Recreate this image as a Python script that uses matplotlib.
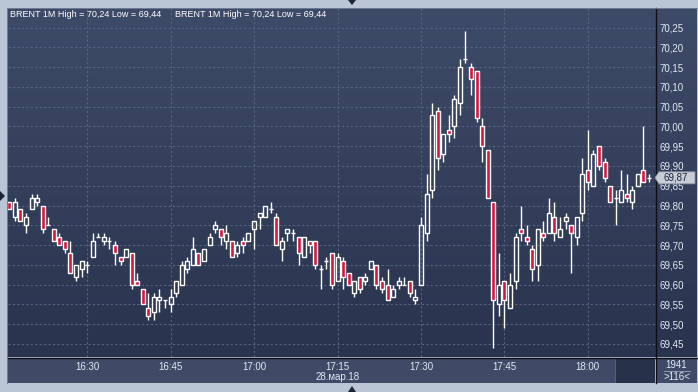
import matplotlib
matplotlib.use("Agg")
import matplotlib.pyplot as plt
import numpy as np
from matplotlib.patches import Rectangle, Polygon
from matplotlib.lines import Line2D
from matplotlib.colors import LinearSegmentedColormap

# ---------------- data ----------------
symbol = "BRENT"
timeframe = "1M"
start_time = "16:16"
date_label = "28.мар.18"
tick_times = ["16:30", "16:45", "17:00", "17:15", "17:30", "17:45", "18:00"]
date_tick = "17:15"
price_ticks = [69.45, 69.50, 69.55, 69.60, 69.65, 69.70, 69.75, 69.80, 69.85,
               69.90, 69.95, 70.00, 70.05, 70.10, 70.15, 70.20, 70.25]
corner_number = "1941"
bar_count_label = ">116<"

opens = [69.81, 69.77, 69.79, 69.75, 69.79, 69.81, 69.80, 69.75, 69.74, 69.72,
         69.71, 69.68, 69.62, 69.64, 69.65, 69.67, 69.72, 69.71, 69.71, 69.70,
         69.67, 69.67, 69.68, 69.61, 69.59, 69.54, 69.53, 69.56, 69.56, 69.55,
         69.58, 69.60, 69.64, 69.65, 69.68, 69.66, 69.70, 69.74, 69.74, 69.71,
         69.71, 69.68, 69.71, 69.71, 69.74, 69.77, 69.77, 69.79, 69.77, 69.69,
         69.73, 69.73, 69.72, 69.67, 69.71, 69.71, 69.64, 69.66, 69.68, 69.61,
         69.66, 69.63, 69.58, 69.62, 69.61, 69.64, 69.65, 69.61, 69.60, 69.57,
         69.60, 69.60, 69.61, 69.56, 69.60, 69.73, 69.84, 70.04, 69.93, 69.99,
         70.00, 70.06, 70.17, 70.15, 70.14, 70.00, 69.94, 69.81, 69.55, 69.61,
         69.54, 69.61, 69.74, 69.72, 69.69, 69.65, 69.73, 69.73, 69.77, 69.72,
         69.76, 69.75, 69.72, 69.78, 69.89, 69.85, 69.95, 69.91, 69.85, 69.82,
         69.81, 69.83, 69.81, 69.85, 69.89, 69.87]
highs = [69.81, 69.82, 69.79, 69.78, 69.83, 69.83, 69.80, 69.77, 69.74, 69.73,
         69.71, 69.71, 69.65, 69.66, 69.66, 69.73, 69.73, 69.73, 69.72, 69.71,
         69.67, 69.69, 69.68, 69.63, 69.59, 69.58, 69.58, 69.59, 69.56, 69.59,
         69.61, 69.66, 69.67, 69.72, 69.68, 69.69, 69.73, 69.76, 69.74, 69.75,
         69.71, 69.71, 69.72, 69.73, 69.76, 69.78, 69.80, 69.81, 69.78, 69.72,
         69.74, 69.74, 69.72, 69.72, 69.71, 69.71, 69.65, 69.67, 69.68, 69.68,
         69.67, 69.63, 69.61, 69.62, 69.63, 69.66, 69.65, 69.62, 69.64, 69.60,
         69.62, 69.62, 69.61, 69.59, 69.77, 69.88, 70.06, 70.05, 69.98, 70.03,
         70.08, 70.17, 70.24, 70.16, 70.14, 70.02, 69.94, 69.81, 69.68, 69.61,
         69.63, 69.73, 69.80, 69.75, 69.70, 69.74, 69.76, 69.82, 69.81, 69.77,
         69.78, 69.75, 69.77, 69.92, 69.99, 69.94, 69.95, 69.92, 69.85, 69.84,
         69.89, 69.88, 69.85, 69.88, 70.00, 69.88]
lows = [69.79, 69.76, 69.76, 69.73, 69.79, 69.80, 69.73, 69.75, 69.71, 69.70,
        69.68, 69.63, 69.61, 69.62, 69.63, 69.67, 69.72, 69.70, 69.69, 69.65,
        69.65, 69.67, 69.59, 69.60, 69.55, 69.51, 69.51, 69.53, 69.54, 69.53,
        69.57, 69.60, 69.63, 69.65, 69.65, 69.66, 69.70, 69.73, 69.70, 69.69,
        69.67, 69.67, 69.68, 69.71, 69.69, 69.74, 69.77, 69.78, 69.70, 69.66,
        69.71, 69.71, 69.65, 69.67, 69.68, 69.64, 69.59, 69.64, 69.59, 69.61,
        69.59, 69.60, 69.57, 69.58, 69.60, 69.64, 69.59, 69.58, 69.56, 69.57,
        69.59, 69.60, 69.57, 69.55, 69.60, 69.71, 69.82, 69.89, 69.91, 69.96,
        69.97, 70.03, 70.16, 70.08, 70.01, 69.91, 69.82, 69.44, 69.52, 69.49,
        69.54, 69.59, 69.71, 69.70, 69.61, 69.61, 69.71, 69.73, 69.71, 69.72,
        69.74, 69.63, 69.70, 69.76, 69.84, 69.85, 69.89, 69.86, 69.81, 69.75,
        69.81, 69.81, 69.79, 69.85, 69.86, 69.86]
closes = [69.79, 69.81, 69.76, 69.77, 69.82, 69.82, 69.74, 69.75, 69.71, 69.70,
          69.69, 69.63, 69.65, 69.66, 69.65, 69.71, 69.72, 69.72, 69.71, 69.68,
          69.66, 69.69, 69.60, 69.60, 69.55, 69.52, 69.57, 69.57, 69.56, 69.57,
          69.61, 69.65, 69.66, 69.69, 69.65, 69.69, 69.72, 69.75, 69.72, 69.73,
          69.67, 69.70, 69.70, 69.73, 69.76, 69.78, 69.80, 69.79, 69.70, 69.71,
          69.74, 69.73, 69.68, 69.72, 69.70, 69.65, 69.64, 69.66, 69.60, 69.67,
          69.62, 69.60, 69.61, 69.59, 69.62, 69.66, 69.60, 69.59, 69.56, 69.59,
          69.61, 69.60, 69.58, 69.57, 69.75, 69.83, 70.03, 69.92, 69.98, 69.98,
          70.07, 70.15, 70.17, 70.12, 70.02, 69.95, 69.82, 69.56, 69.60, 69.56,
          69.60, 69.72, 69.73, 69.71, 69.64, 69.74, 69.72, 69.78, 69.73, 69.74,
          69.77, 69.73, 69.77, 69.88, 69.86, 69.93, 69.90, 69.87, 69.81, 69.82,
          69.84, 69.82, 69.84, 69.88, 69.86, 69.87]

# ---------------- helpers ----------------
def minutes(t):
    h, m = t.split(":")
    return int(h) * 60 + int(m)

t0 = minutes(start_time)
n = len(closes)
x = np.arange(n)  # one candle per minute from start_time
tick_pos = [minutes(t) - t0 for t in tick_times]

def fmt(v):
    return f"{v:.2f}".replace(".", ",")

W, H = 698, 392
def rect(x0, y0, x1, y1):
    return [x0 / W, 1 - y1 / H, (x1 - x0) / W, (y1 - y0) / H]

FRAME = "#bac6d6"
TOP = "#3e4b68"
BOT = "#29334e"
RED = "#dc143c"
TXT = "#e2eaf5"

fig = plt.figure(figsize=(W / 100, H / 100), dpi=100, facecolor=FRAME)

# gradient background for plot + right price scale
bg = fig.add_axes(rect(8, 8, 697, 357))
cmap = LinearSegmentedColormap.from_list("bg", [TOP, BOT])
bg.imshow(np.linspace(0, 1, 256).reshape(-1, 1), aspect="auto", cmap=cmap,
          extent=[0, 1, 0, 1], origin="upper")
bg.set_axis_off()

ax = fig.add_axes(rect(8, 8, 655, 357))
ax.set_facecolor("none")
ax.set_xlim(-0.23, n + 0.07)
ax.set_ylim(69.4171, 70.2993)
for s in ax.spines.values():
    s.set_visible(False)

ax.set_yticks(price_ticks)
ax.set_yticklabels([fmt(v) for v in price_ticks])
ax.yaxis.tick_right()
ax.tick_params(axis="y", length=0, pad=3, labelsize=7, labelcolor=TXT)
ax.set_xticks(tick_pos)
ax.set_xticklabels([])
ax.tick_params(axis="x", length=0)
ax.grid(True, color="#56637f", linestyle=(0, (2, 2)), linewidth=0.8)
ax.set_axisbelow(True)
for lab in ax.get_yticklabels():
    lab.set_fontfamily("Liberation Sans")

# candles
bw = 0.72
for i in range(n):
    o, h, l, c = opens[i], highs[i], lows[i], closes[i]
    top, bot = max(o, c), min(o, c)
    if h > top:
        ax.vlines(x[i], top, h, color="white", lw=1.0, zorder=3)
    if l < bot:
        ax.vlines(x[i], l, bot, color="white", lw=1.0, zorder=3)
    down = c < o
    ax.add_patch(Rectangle((x[i] - bw / 2, bot), bw, top - bot,
                           facecolor=RED if down else "none",
                           edgecolor="white", linewidth=1.0, zorder=4))

# current price tag
ydisp = ax.transData.transform((0, closes[-1]))[1]
yp = H - ydisp  # pixel from top
tag = Polygon([[655 / W, 1 - yp / H], [659 / W, 1 - (yp - 6) / H],
               [695 / W, 1 - (yp - 6) / H], [695 / W, 1 - (yp + 6) / H],
               [659 / W, 1 - (yp + 6) / H]], closed=True,
              transform=fig.transFigure, facecolor="#c9cdd5",
              edgecolor="#8d96a8", lw=0.6, zorder=10)
fig.add_artist(tag)
fig.text(676 / W, 1 - yp / H, fmt(closes[-1]), ha="center", va="center",
         fontsize=7, color="#1f2840", family="Liberation Sans", zorder=11)

# bottom time strip
strip = fig.add_axes(rect(8, 358, 655, 383))
strip.set_facecolor("#3e4a66")
strip.set_xlim(ax.get_xlim())
strip.set_ylim(0, 1)
strip.set_xticks([])
strip.set_yticks([])
for s in strip.spines.values():
    s.set_visible(False)
strip.add_patch(Rectangle((0.938, 0), 0.062, 1, transform=strip.transAxes,
                          facecolor="#28314a", edgecolor="none"))
strip.axvline(strip.get_xlim()[0] + 0.938 * (strip.get_xlim()[1] - strip.get_xlim()[0]),
              color="#555f75", lw=0.8)
for p, t in zip(tick_pos, tick_times):
    strip.text(p, 0.66, t, ha="center", va="center", fontsize=7, color=TXT,
               family="Liberation Sans")
strip.text(minutes(date_tick) - t0, 0.22, date_label, ha="center", va="center",
           fontsize=7, color=TXT, family="Liberation Sans")

rs = fig.add_axes(rect(656, 358, 697, 383))
rs.set_facecolor("#3e4a66")
rs.set_xticks([])
rs.set_yticks([])
for s in rs.spines.values():
    s.set_visible(False)
rs.text(0.5, 0.72, corner_number, ha="center", va="center", fontsize=7,
        color=TXT, family="Liberation Sans", transform=rs.transAxes)
rs.plot([0.2, 0.82], [0.47, 0.47], color="#9aa6bb", lw=0.6, transform=rs.transAxes)
rs.text(0.5, 0.22, bar_count_label, ha="center", va="center", fontsize=7,
        color=TXT, family="Liberation Sans", transform=rs.transAxes)

# separators
fig.add_artist(Line2D([655.5 / W, 655.5 / W], [1 - 8 / H, 1 - 383 / H],
                      transform=fig.transFigure, color="#0c0f16", lw=1.0))
fig.add_artist(Line2D([8 / W, 697 / W], [1 - 357.5 / H, 1 - 357.5 / H],
                      transform=fig.transFigure, color="#0c0f16", lw=1.0))
# inner border of the frame (left, top)
fig.add_artist(Line2D([7.5 / W, 7.5 / W], [1 - 8 / H, 1 - 383 / H],
                      transform=fig.transFigure, color="#6f7b92", lw=0.7))
fig.add_artist(Line2D([7.5 / W, 697 / W], [1 - 7.5 / H, 1 - 7.5 / H],
                      transform=fig.transFigure, color="#6f7b92", lw=0.7))

# header text
header = f"{symbol} {timeframe} High = {fmt(max(highs))} Low = {fmt(min(lows))}"
fig.text(10 / W, 1 - 14.5 / H, header, ha="left", va="center", fontsize=6.5,
         color="white", family="Liberation Sans")
fig.text(175 / W, 1 - 14.5 / H, header, ha="left", va="center", fontsize=6.5,
         color="white", family="Liberation Sans")

# frame markers
mk = "#1c2436"
for pts in ([[348, 0], [356, 0], [352, 5]],
            [[348, 392], [356, 392], [352, 386]],
            [[0, 191], [0, 201], [5, 196]]):
    fig.add_artist(Polygon([[px / W, 1 - py / H] for px, py in pts], closed=True,
                           transform=fig.transFigure, facecolor=mk,
                           edgecolor="none"))

fig.savefig("out.png", dpi=100, facecolor=FRAME)
